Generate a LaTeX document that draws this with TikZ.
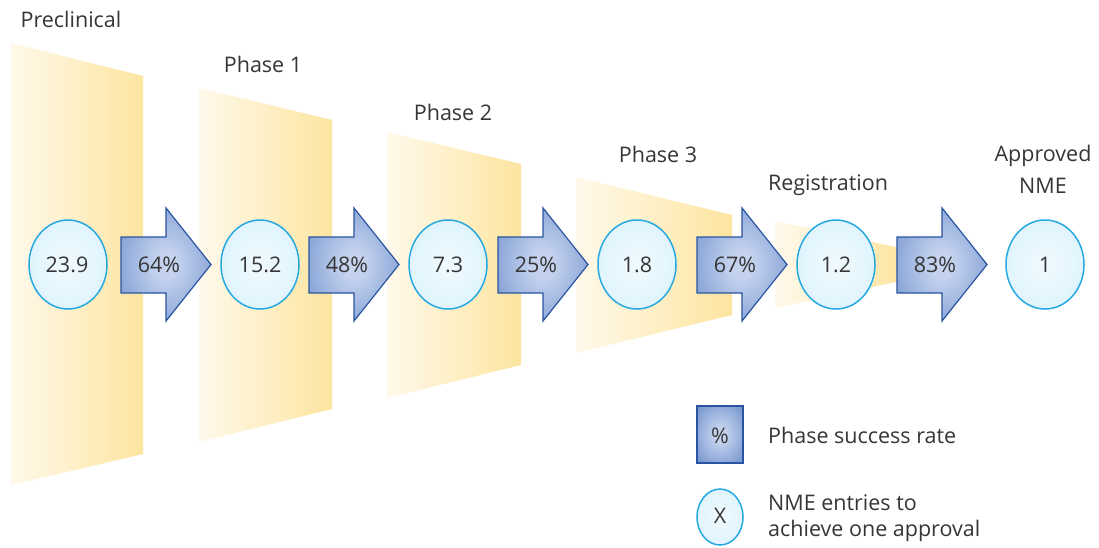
\documentclass[tikz,border=0pt]{standalone}
\usepackage{fontspec}
\setmainfont{Open Sans}
\usetikzlibrary{shapes.geometric}
\definecolor{txt}{HTML}{363636}
\definecolor{arrin}{HTML}{C4D2EE}
\definecolor{arrout}{HTML}{537CC2}
\definecolor{arrline}{HTML}{2A54A0}
\definecolor{cirin}{HTML}{F0FAFF}
\definecolor{cirmid}{HTML}{E0F4FD}
\definecolor{cirout}{HTML}{BFE6F8}
\definecolor{cirline}{HTML}{27A9E1}
\definecolor{panL}{HTML}{FFF9EB}
\definecolor{panR}{HTML}{FDE5A0}
\pgfdeclareradialshading{arrowshade}{\pgfpoint{0bp}{0bp}}{color(0bp)=(arrin); color(6bp)=(arrin); color(46bp)=(arrout); color(50bp)=(arrout)}
\pgfdeclareradialshading{circshade}{\pgfpoint{0bp}{0bp}}{color(0bp)=(cirin); color(25bp)=(cirmid); color(50bp)=(cirout)}
\newcommand\blockarr[2]{\path[barrow,xshift=#1pt] (0,237) -- (45,237) -- (45,208) -- (90,264.5) -- (45,321) -- (45,293) -- (0,293) -- cycle;
  \node[lbl] (#2) at (#1+38,272.7) {#2\%};}
\tikzset{
  panel/.style={draw=none, left color=panL, right color=panR},
  bubble/.style={ellipse, draw=cirline, line width=1.5pt, shade, shading=circshade,
    minimum width=78pt, minimum height=89pt, inner sep=0pt},
  barrow/.style={draw=arrline, line width=1.2pt, shade, shading=arrowshade, line join=miter},
  lbl/.style={inner sep=0pt, anchor=base, text=txt},
  lbll/.style={inner sep=0pt, anchor=base west, text=txt},
}
\begin{document}
\begin{tikzpicture}[x=1pt,y=-1pt,font=\fontsize{21.5}{25}\selectfont]
\useasboundingbox[fill=white] (0,0) rectangle (1099,547);
% panels
\path[panel] (11,43) -- (143,76) -- (143,454) -- (11,485) -- cycle;
\path[panel] (199,88) -- (332,120) -- (332,409) -- (199,442) -- cycle;
\path[panel] (387,132) -- (521,164) -- (521,365) -- (387,398) -- cycle;
\path[panel] (576,177) -- (732,215) -- (732,315) -- (576,353) -- cycle;
\path[panel] (775,221) -- (905,249) -- (905,280) -- (775,308) -- cycle;
% stage titles
\node[lbl] (t0) at (71,27) {Preclinical};
\node[lbl] (t1) at (263,72.7) {Phase 1};
\node[lbl] (t2) at (453,120) {Phase 2};
\node[lbl] (t3) at (658,162) {Phase 3};
\node[lbl] (t4) at (828,190.7) {Registration};
\node[lbl] (t5a) at (1043,161.7) {Approved};
\node[lbl] (t5b) at (1043,193) {NME};
% bubbles
\node[bubble] (c0) at (68,264.5) {};
\node[bubble] (c1) at (260,264.5) {};
\node[bubble] (c2) at (448,264.5) {};
\node[bubble] (c3) at (637,264.5) {};
\node[bubble] (c4) at (836,264.5) {};
\node[bubble] (c5) at (1045,264.5) {};
\node[lbl] (v0) at (67,272.5) {23.9};
\node[lbl] (v1) at (260,272.5) {15.2};
\node[lbl] (v2) at (448,272.5) {7.3};
\node[lbl] (v3) at (637,272.5) {1.8};
\node[lbl] (v4) at (836,272.5) {1.2};
\node[lbl] (v5) at (1045,272.5) {1};
% block arrows
\blockarr{121}{64}
\blockarr{309}{48}
\blockarr{498}{25}
\blockarr{697}{67}
\blockarr{897}{83}
% legend
\path[barrow] (697,406) rectangle (743,463);
\node[lbl] (lp) at (720,443) {\%};
\node[lbll] (lt1) at (768,443) {Phase success rate};
\node[bubble, minimum width=46pt, minimum height=56pt] (lc) at (720,517) {};
\node[lbl] (lx) at (720,523.7) {X};
\node[lbll] (lt2) at (768,510) {NME entries to};
\node[lbll] (lt3) at (768,536.7) {achieve one approval};
\end{tikzpicture}
\end{document}
